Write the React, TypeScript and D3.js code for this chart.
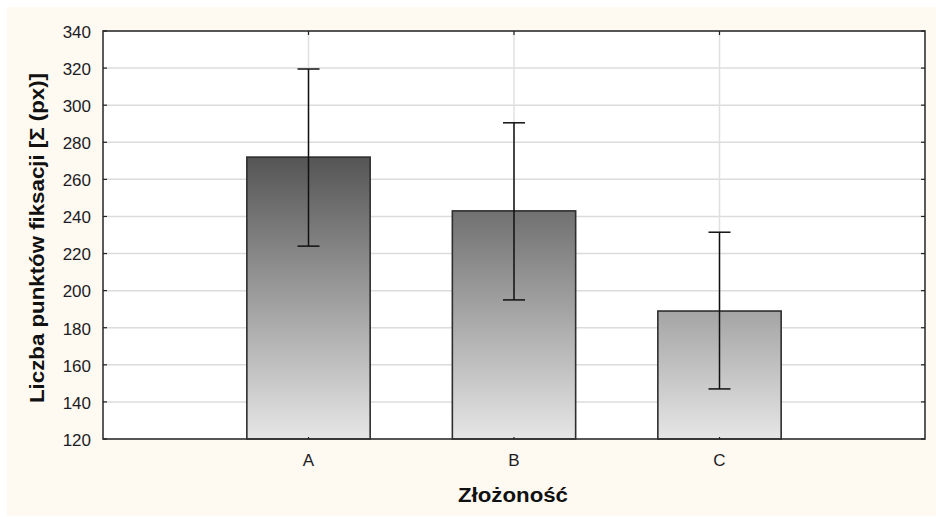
import React from "react";
import * as d3 from "d3";

// Mean fixation counts per complexity level, with error bar bounds
const categories = ["A", "B", "C"];
const means = [272, 243, 189];
const lowerBounds = [224, 195, 147];
const upperBounds = [319.5, 290.5, 231.5];
const yTicks = [120, 140, 160, 180, 200, 220, 240, 260, 280, 300, 320, 340];

const yTitle = "Liczba punktów fiksacji [Σ (px)]";
const xTitle = "Złożoność";

const W = 936;
const H = 517;
const plot = { left: 103, right: 925, top: 31, bottom: 439 };
const font = "'Liberation Sans', Arial, sans-serif";

export default function App() {
  const x = d3
    .scalePoint<string>()
    .domain(categories)
    .range([plot.left, plot.right])
    .padding(1);
  const y = d3.scaleLinear().domain([120, 340]).range([plot.bottom, plot.top]);
  const barW = x.step() * 0.6;
  const capW = 22;

  return (
    <svg
      width={W}
      height={H}
      style={{ position: "absolute", left: 0, top: 0, display: "block" }}
    >
      <defs>
        <linearGradient
          id="barFill"
          gradientUnits="userSpaceOnUse"
          x1={0}
          y1={plot.top}
          x2={0}
          y2={plot.bottom}
        >
          <stop offset="0" stopColor="#141414" />
          <stop offset="1" stopColor="#e6e6e6" />
        </linearGradient>
      </defs>
      <rect x={0} y={0} width={W} height={H} fill="#ffffff" />
      <rect x={7} y={7} width={W - 7} height={H - 8} fill="#fef9f1" />
      <rect
        x={plot.left}
        y={plot.top}
        width={plot.right - plot.left}
        height={plot.bottom - plot.top}
        fill="#ffffff"
      />
      {/* horizontal grid */}
      {yTicks.map((t) => (
        <line
          key={"g" + t}
          x1={plot.left}
          x2={plot.right}
          y1={y(t)}
          y2={y(t)}
          stroke="#dcdcdc"
          strokeWidth={1.5}
        />
      ))}
      {/* vertical grid at categories */}
      {categories.map((c) => (
        <line
          key={"v" + c}
          x1={x(c)}
          x2={x(c)}
          y1={plot.top}
          y2={plot.bottom}
          stroke="#e0e0e0"
          strokeWidth={1.5}
        />
      ))}
      {/* bars */}
      {categories.map((c, i) => (
        <rect
          key={"b" + c}
          x={(x(c) as number) - barW / 2}
          y={y(means[i])}
          width={barW}
          height={y(120) - y(means[i])}
          fill="url(#barFill)"
          stroke="#2e2e2e"
          strokeWidth={1.6}
        />
      ))}
      {/* error bars */}
      {categories.map((c, i) => {
        const cx = x(c) as number;
        return (
          <g key={"e" + c} stroke="#111" strokeWidth={1.5}>
            <line x1={cx} x2={cx} y1={y(upperBounds[i])} y2={y(lowerBounds[i])} />
            <line
              x1={cx - capW / 2}
              x2={cx + capW / 2}
              y1={y(upperBounds[i])}
              y2={y(upperBounds[i])}
            />
            <line
              x1={cx - capW / 2}
              x2={cx + capW / 2}
              y1={y(lowerBounds[i])}
              y2={y(lowerBounds[i])}
            />
          </g>
        );
      })}
      {/* frame */}
      <rect
        x={plot.left}
        y={plot.top}
        width={plot.right - plot.left}
        height={plot.bottom - plot.top}
        fill="none"
        stroke="#333"
        strokeWidth={1.6}
      />
      {/* inner ticks on left and right */}
      {yTicks.map((t) => (
        <g key={"t" + t} stroke="#222" strokeWidth={1.2}>
          <line x1={plot.left} x2={plot.left + 4} y1={y(t)} y2={y(t)} />
          <line x1={plot.right - 4} x2={plot.right} y1={y(t)} y2={y(t)} />
        </g>
      ))}
      {categories.map((c) => (
        <g key={"ct" + c} stroke="#222" strokeWidth={1.2}>
          <line x1={x(c)} x2={x(c)} y1={plot.top} y2={plot.top + 4} />
          <line x1={x(c)} x2={x(c)} y1={plot.bottom} y2={plot.bottom - 2} />
        </g>
      ))}
      {/* y tick labels */}
      {yTicks.map((t) => (
        <text
          key={"l" + t}
          x={91}
          y={y(t)}
          dy="0.4em"
          textAnchor="end"
          fontFamily={font}
          fontSize={17}
          fill="#1c1c24"
        >
          {t}
        </text>
      ))}
      {/* x tick labels */}
      {categories.map((c) => (
        <text
          key={"xl" + c}
          x={x(c)}
          y={466}
          textAnchor="middle"
          fontFamily={font}
          fontSize={17}
          fill="#1c1c24"
        >
          {c}
        </text>
      ))}
      <text
        x={513}
        y={502}
        textAnchor="middle"
        fontFamily={font}
        fontSize={19.5}
        fontWeight="bold"
        fill="#111"
        textLength={110}
        lengthAdjust="spacingAndGlyphs"
      >
        {xTitle}
      </text>
      <text
        transform="translate(44, 238) rotate(-90)"
        textAnchor="middle"
        fontFamily={font}
        fontSize={19.5}
        fontWeight="bold"
        fill="#111"
        textLength={330}
        lengthAdjust="spacingAndGlyphs"
      >
        {yTitle}
      </text>
    </svg>
  );
}
